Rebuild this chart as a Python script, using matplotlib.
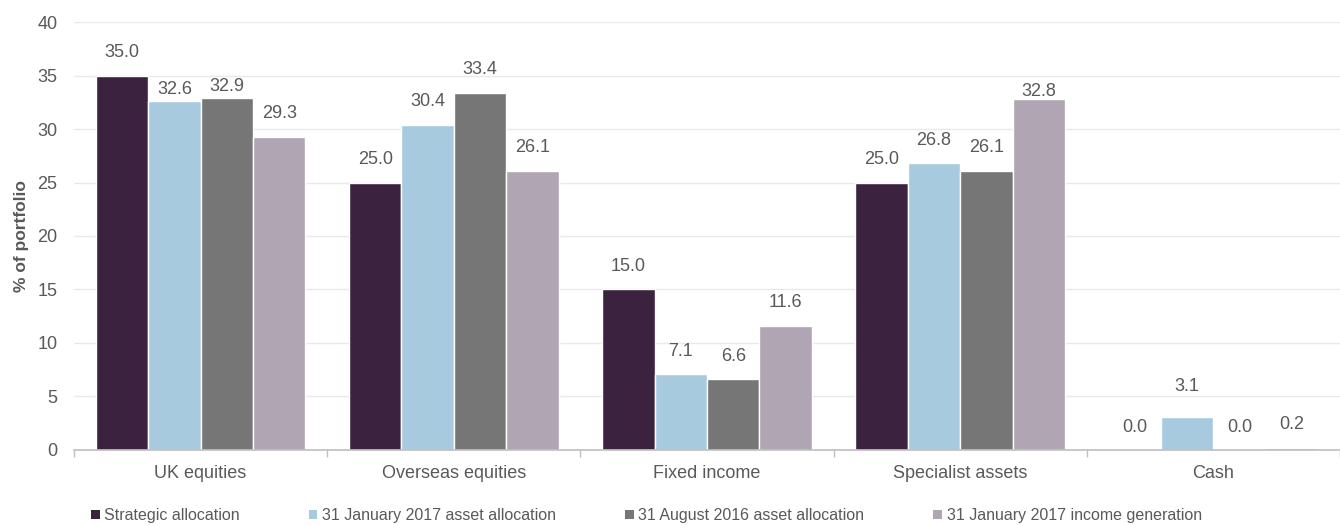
import matplotlib.pyplot as plt
import numpy as np
from matplotlib.patches import Patch

plt.rcParams['font.family'] = ['Liberation Sans', 'DejaVu Sans']

categories = ['UK equities', 'Overseas equities', 'Fixed income', 'Specialist assets', 'Cash']
series_names = ['Strategic allocation', '31 January 2017 asset allocation',
                '31 August 2016 asset allocation', '31 January 2017 income generation']
strategic = [35.0, 25.0, 15.0, 25.0, 0.0]
jan17_alloc = [32.6, 30.4, 7.1, 26.8, 3.1]
aug16_alloc = [32.9, 33.4, 6.6, 26.1, 0.0]
jan17_income = [29.3, 26.1, 11.6, 32.8, 0.2]
colors = ['#3b2340', '#a8cade', '#767676', '#b0a5b2']

TEXT = '#595959'

# value labels sit ~16.5pt above their bar; a few were nudged to avoid crowding
label_gap = 16.5
label_nudge = {(1, 0): 8.5, (2, 0): 8.5, (3, 3): 5.5, (1, 4): 21.5}

fig = plt.figure(figsize=(13.4, 5.25), dpi=100)
ax = fig.add_axes([0.0552, 0.143, 0.9448, 0.815])

x = np.arange(len(categories))
width = 0.207
series = [strategic, jan17_alloc, aug16_alloc, jan17_income]
for i, (vals, name, col) in enumerate(zip(series, series_names, colors)):
    pos = x + (i - 1.5) * width
    bars = ax.bar(pos, vals, width, color=col, edgecolor='white', linewidth=1, label=name, zorder=2)
    for j, (b, v) in enumerate(zip(bars, vals)):
        dy = label_nudge.get((i, j), label_gap)
        ax.annotate(f'{v:.1f}', (b.get_x() + b.get_width() / 2, v),
                    xytext=(0, dy), textcoords='offset points',
                    ha='center', va='center', fontsize=13, color=TEXT)

ax.set_xlim(-0.5, len(categories) - 0.5)
ax.set_ylim(0, 40)
ax.set_yticks(range(0, 41, 5))
ax.grid(axis='y', color='#e9e9e9', linewidth=1, zorder=0)
ax.set_axisbelow(True)

ax.set_xticks(x)
ax.set_xticklabels(categories)
ax.set_xticks(np.arange(-0.5, len(categories), 1.0), minor=True)
ax.tick_params(axis='x', which='major', length=0, pad=11, labelsize=13, labelcolor=TEXT)
ax.tick_params(axis='x', which='minor', length=5, color='#bfbfbf', width=1)
ax.tick_params(axis='y', length=0, pad=12, labelsize=13, labelcolor=TEXT)

for s in ['top', 'right', 'left']:
    ax.spines[s].set_visible(False)
ax.spines['bottom'].set_color('#bfbfbf')
ax.spines['bottom'].set_linewidth(1.2)

ax.set_ylabel('% of portfolio', fontsize=12.5, fontweight='bold', color=TEXT, labelpad=6)

handles = [Patch(facecolor=c, edgecolor='none') for c in colors]
fig.legend(handles, series_names, loc='lower left', bbox_to_anchor=(0.057, -0.024),
           ncol=4, frameon=False, fontsize=11.5, labelcolor=TEXT,
           handlelength=0.55, handleheight=0.55, handletextpad=0.3, columnspacing=4.3)

fig.savefig('out.png', dpi=100)
